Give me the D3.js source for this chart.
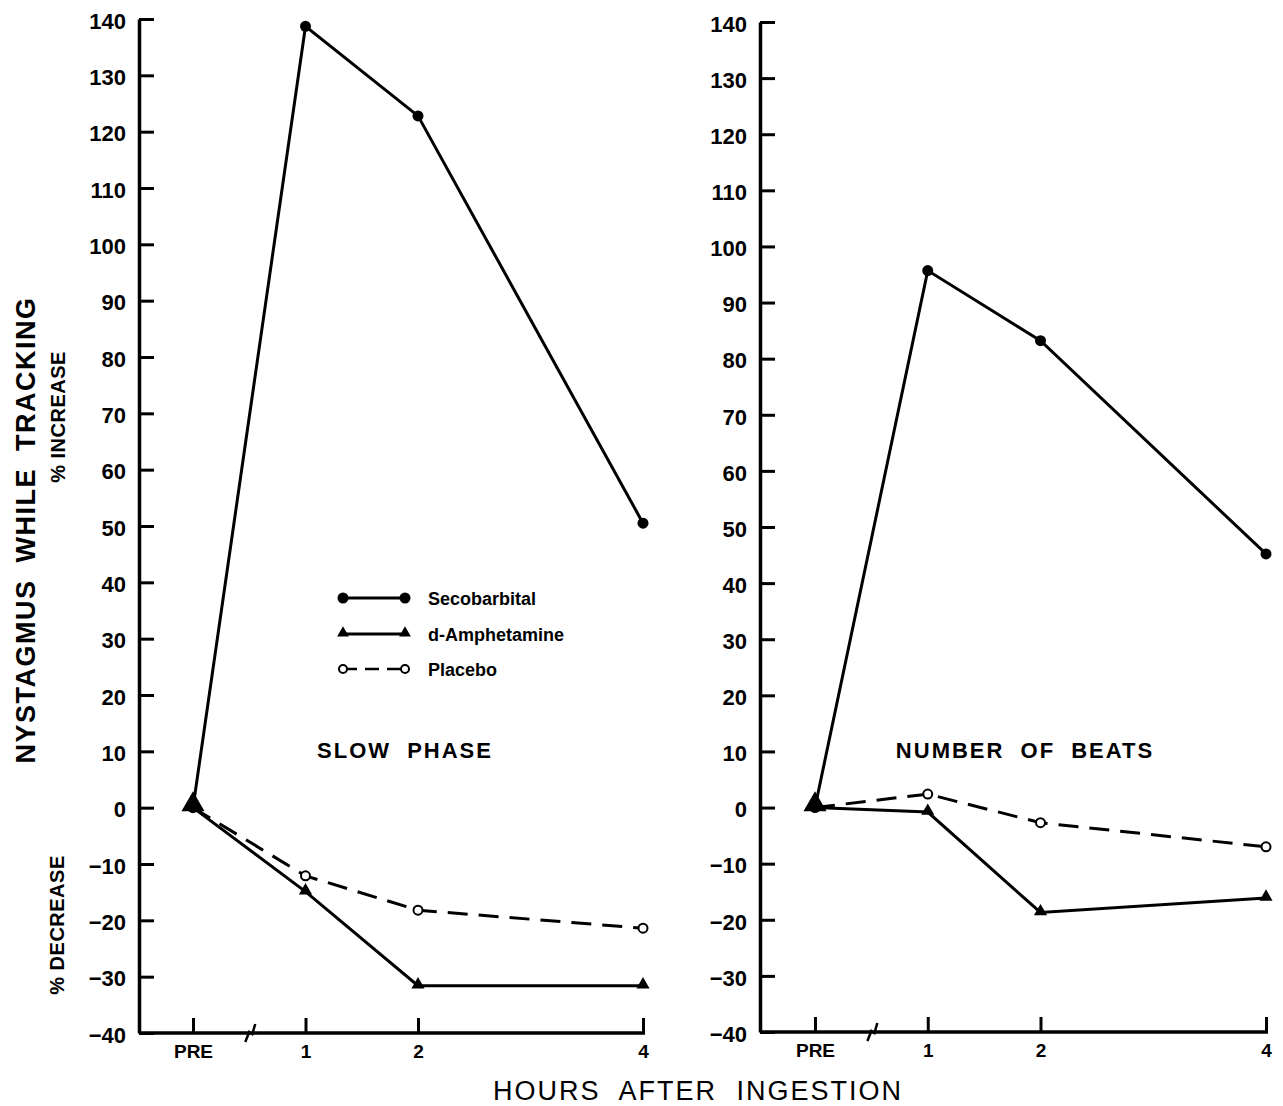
<!DOCTYPE html>
<html>
<head>
<meta charset="utf-8">
<script src="https://cdn.jsdelivr.net/npm/d3@7/dist/d3.min.js"></script>
<style>
  body { margin: 0; background: #fff; }
  svg { display: block; }
  text { font-family: "Liberation Sans", Arial, sans-serif; fill: #000; }
</style>
</head>
<body>
<div id="chart"></div>
<script>
// Nystagmus while tracking: % change from PRE, two panels

const hours = [0, 1, 2, 4];
const hourLabels = ['PRE', '1', '2', '4'];
const yTicks = [-40, -30, -20, -10, 0, 10, 20, 30, 40, 50, 60, 70, 80, 90, 100, 110, 120, 130, 140];

// slow phase panel
const slowSeco = [0, 138.7, 122.8, 50.5];
const slowAmph = [0, -14.9, -31.6, -31.6];
const slowPlac = [0, -12.1, -18.2, -21.4];

// number of beats panel
const beatsSeco = [0, 95.7, 83.2, 45.2];
const beatsAmph = [0, -0.8, -18.7, -16.1];
const beatsPlac = [0, 2.4, -2.7, -7.0];

const seriesNames = ['Secobarbital', 'd-Amphetamine', 'Placebo'];

const W = 1283, H = 1106;

const svg = d3.select('#chart').append('svg')
  .attr('width', W)
  .attr('height', H);

function drawPanel(cfg) {
  const x = d3.scaleLinear().domain([0, 4]).range([cfg.x0, cfg.x4]);
  const y = d3.scaleLinear().domain([-40, 140]).range([cfg.yBottom, cfg.yTop]);
  const g = svg.append('g');

  // y axis, ticks pointing inward
  const yAxis = d3.axisLeft(y)
    .tickValues(yTicks)
    .tickSizeInner(-15)
    .tickSizeOuter(0)
    .tickPadding(13)
    .tickFormat(d3.format('d'));
  const ya = g.append('g')
    .attr('transform', `translate(${cfg.axisX},0)`)
    .call(yAxis);
  ya.select('.domain').attr('stroke-width', 3.5);
  ya.selectAll('.tick line').attr('stroke-width', 3);
  ya.selectAll('.tick text')
    .attr('dy', '0.42em')
    .style('font-size', '22px')
    .style('font-weight', 'bold');

  // x axis
  const xAxis = d3.axisBottom(x)
    .tickValues(hours)
    .tickSizeInner(-15)
    .tickSizeOuter(0)
    .tickPadding(12)
    .tickFormat((d, i) => hourLabels[i]);
  const xa = g.append('g')
    .attr('transform', `translate(0,${cfg.yBottom})`)
    .call(xAxis);
  xa.select('.domain').remove();
  xa.selectAll('.tick line').attr('stroke-width', 3);
  xa.selectAll('.tick text')
    .style('font-size', '19px')
    .style('font-weight', 'bold');

  g.append('line')
    .attr('x1', cfg.axisX).attr('x2', x(4) + 2)
    .attr('y1', cfg.yBottom).attr('y2', cfg.yBottom)
    .attr('stroke', '#000').attr('stroke-width', 3.5);

  // axis break between PRE and 1
  const bx = x(0.5), by = cfg.yBottom;
  g.append('path')
    .attr('d', `M${bx - 4},${by + 9} L${bx},${by - 1} L${bx + 3},${by + 1} L${bx + 6},${by - 9}`)
    .attr('fill', 'none').attr('stroke', '#000').attr('stroke-width', 2.5);

  const line = d3.line().x((d, i) => x(hours[i])).y(d => y(d));

  // placebo dashed
  g.append('path').datum(cfg.plac)
    .attr('d', line)
    .attr('fill', 'none').attr('stroke', '#000')
    .attr('stroke-width', 3).attr('stroke-dasharray', '20,11');
  // amphetamine
  g.append('path').datum(cfg.amph)
    .attr('d', line)
    .attr('fill', 'none').attr('stroke', '#000').attr('stroke-width', 3);
  // secobarbital
  g.append('path').datum(cfg.seco)
    .attr('d', line)
    .attr('fill', 'none').attr('stroke', '#000').attr('stroke-width', 3);

  g.selectAll('.seco').data(cfg.seco).join('circle')
    .attr('cx', (d, i) => x(hours[i])).attr('cy', d => y(d))
    .attr('r', 5.5).attr('fill', '#000');

  g.selectAll('.plac').data(cfg.plac.slice(1)).join('circle')
    .attr('cx', (d, i) => x(hours[i + 1])).attr('cy', d => y(d))
    .attr('r', 4.5).attr('fill', '#fff').attr('stroke', '#000').attr('stroke-width', 2);

  const tri = d3.symbol().type(d3.symbolTriangle);
  g.selectAll('.amph').data(cfg.amph).join('path')
    .attr('transform', (d, i) => `translate(${x(hours[i])},${y(d) - (i === 0 ? 3 : 1)})`)
    .attr('d', (d, i) => tri.size(i === 0 ? 230 : 75)())
    .attr('fill', '#000');

  g.append('text')
    .attr('x', cfg.titleX).attr('y', 758)
    .attr('text-anchor', 'middle')
    .style('font-size', '22px')
    .style('font-weight', 'bold')
    .style('letter-spacing', '2px')
    .style('word-spacing', '8px')
    .text(cfg.title);
}

drawPanel({
  axisX: 139, x0: 193, x4: 643, yTop: 19, yBottom: 1033,
  seco: slowSeco, amph: slowAmph, plac: slowPlac,
  title: 'SLOW PHASE', titleX: 405
});

drawPanel({
  axisX: 760, x0: 815, x4: 1266, yTop: 22, yBottom: 1032,
  seco: beatsSeco, amph: beatsAmph, plac: beatsPlac,
  title: 'NUMBER OF BEATS', titleX: 1025
});

// legend
const legendY = [598, 634, 669];
const lg = svg.append('g');
legendY.forEach((ly, i) => {
  lg.append('line')
    .attr('x1', 343).attr('x2', 405).attr('y1', ly).attr('y2', ly)
    .attr('stroke', '#000').attr('stroke-width', i === 2 ? 2.5 : 3)
    .attr('stroke-dasharray', i === 2 ? '14,8' : null);
  [343, 405].forEach(cx => {
    if (i === 0) {
      lg.append('circle').attr('cx', cx).attr('cy', ly).attr('r', 5.5).attr('fill', '#000');
    } else if (i === 1) {
      lg.append('path')
        .attr('transform', `translate(${cx},${ly - 1})`)
        .attr('d', d3.symbol().type(d3.symbolTriangle).size(60)())
        .attr('fill', '#000');
    } else {
      lg.append('circle').attr('cx', cx).attr('cy', ly).attr('r', 4)
        .attr('fill', '#fff').attr('stroke', '#000').attr('stroke-width', 2);
    }
  });
  lg.append('text')
    .attr('x', 428).attr('y', ly + 7)
    .style('font-size', '18px').style('font-weight', 'bold')
    .text(seriesNames[i]);
});

// axis titles
svg.append('text')
  .attr('transform', 'translate(35,530) rotate(-90)')
  .attr('text-anchor', 'middle')
  .style('font-size', '27px').style('font-weight', 'bold')
  .style('letter-spacing', '1.5px').style('word-spacing', '8px')
  .text('NYSTAGMUS WHILE TRACKING');

svg.append('text')
  .attr('transform', 'translate(65,417) rotate(-90)')
  .attr('text-anchor', 'middle')
  .style('font-size', '20px').style('font-weight', 'bold')
  .style('letter-spacing', '0.5px')
  .text('% INCREASE');

svg.append('text')
  .attr('transform', 'translate(64,925) rotate(-90)')
  .attr('text-anchor', 'middle')
  .style('font-size', '20px').style('font-weight', 'bold')
  .style('letter-spacing', '0.5px')
  .text('% DECREASE');

svg.append('text')
  .attr('x', 698).attr('y', 1100)
  .attr('text-anchor', 'middle')
  .style('font-size', '27px')
  .style('letter-spacing', '2px').style('word-spacing', '10px')
  .text('HOURS AFTER INGESTION');
</script>
</body>
</html>
